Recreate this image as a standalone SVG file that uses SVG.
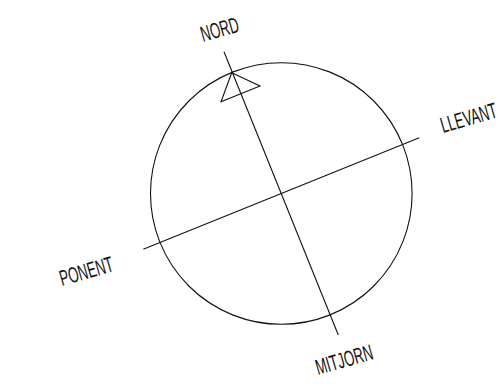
<svg xmlns="http://www.w3.org/2000/svg" width="502" height="386" viewBox="0 0 502 386">
<style>
.ln{fill:none;stroke:#111;stroke-width:1.1}
.lbl{font-family:"Liberation Sans",Arial,sans-serif;font-size:22px;fill:#111}
</style>
<rect width="502" height="386" fill="#fff"/>
<g id="compass">
<circle class="ln" cx="281.3" cy="193.5" r="130.8"/>
<polygon id="north-arrow" class="ln" points="231.7,72.7 260,86 221,101.7"/>
</g>
<g id="connectors">
<line class="ln" x1="224" y1="51.7" x2="338.3" y2="335"/>
<line class="ln" x1="143.3" y1="249.3" x2="419.3" y2="137.7"/>
</g>
<g id="nord"><text class="lbl" transform="translate(203,42) rotate(-16) scale(0.6,1)">NORD</text></g>
<g id="llevant"><text class="lbl" transform="translate(443,133) rotate(-16) scale(0.6,1)">LLEVANT</text></g>
<g id="ponent"><text class="lbl" transform="translate(62,286) rotate(-16) scale(0.6,1)">PONENT</text></g>
<g id="mitjorn"><text class="lbl" transform="translate(318,375) rotate(-16) scale(0.6,1)">MITJORN</text></g>
</svg>
